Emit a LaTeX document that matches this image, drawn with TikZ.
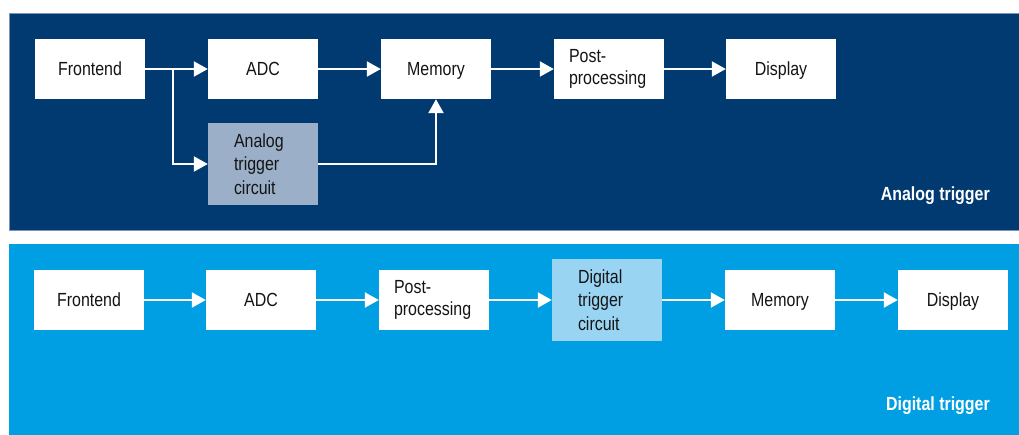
\documentclass[tikz,border=0pt]{standalone}
\usepackage{fontspec}
\setmainfont{Liberation Sans}[FakeStretch=0.84]
\usetikzlibrary{arrows.meta,positioning}
\definecolor{darkpanel}{RGB}{0,58,112}
\definecolor{lightpanel}{RGB}{0,159,227}
\definecolor{paneledge}{RGB}{120,150,185}
\definecolor{atcfill}{RGB}{155,176,200}
\definecolor{dtcfill}{RGB}{153,213,243}
\definecolor{txt}{RGB}{20,20,20}
\tikzset{
  blockbox/.style={fill=white, draw=none, minimum width=110pt, minimum height=60pt,
    inner sep=0pt, text=txt, font=\fontsize{19}{22}\selectfont, align=center,
    text height=13.9pt, text depth=0pt},
  leftbox/.style={fill=white, draw=none, minimum width=110pt, minimum height=60pt,
    inner sep=0pt, text=txt, font=\fontsize{19}{22}\selectfont, align=left, text width=80pt},
  trigbox/.style={draw=none, minimum width=110pt, minimum height=82pt,
    inner sep=0pt, text=txt, font=\fontsize{19}{23.5}\selectfont, align=left, text width=58pt},
  flow/.style={draw=white, line width=2.2pt, -{Triangle[length=14pt,width=15pt]}},
  paneltitle/.style={text=white, font=\bfseries\fontsize{19}{20}\selectfont, anchor=base east, inner sep=0pt}
}
\begin{document}
\begin{tikzpicture}[x=1pt,y=-1pt]
\useasboundingbox (0,0) rectangle (1019,434);
\fill[white] (0,0) rectangle (1019,434);
% panels
\fill[darkpanel, draw=paneledge, line width=0.8pt] (9,13) rectangle (1025,230);
\fill[lightpanel] (9,244) rectangle (1025,440);
% top row
\node[blockbox] (fe1) at (90,69) {Frontend};
\node[blockbox] (adc1) at (263,69) {ADC};
\node[blockbox] (mem1) at (436,69) {Memory};
\node[leftbox] (pp1) at (609,69) {Post-\\processing};
\node[blockbox] (dis1) at (781,69) {Display};
\node[trigbox, fill=atcfill] (atc) at (263,164) {Analog\\trigger\\circuit};
\coordinate (br) at (173,69);
\draw[flow] (fe1.east) -- (adc1.west);
\draw[flow] (br) |- (atc.west);
\draw[flow] (adc1.east) -- (mem1.west);
\draw[flow] (mem1.east) -- (pp1.west);
\draw[flow] (pp1.east) -- (dis1.west);
\draw[flow] (atc.east) -| (mem1.south);
\node[paneltitle] (t1) at (990,200) {Analog trigger};
% bottom row
\node[blockbox] (fe2) at (89,300) {Frontend};
\node[blockbox] (adc2) at (261,300) {ADC};
\node[leftbox] (pp2) at (434,300) {Post-\\processing};
\node[trigbox, fill=dtcfill] (dtc) at (607,300) {Digital\\trigger\\circuit};
\node[blockbox] (mem2) at (780,300) {Memory};
\node[blockbox] (dis2) at (953,300) {Display};
\draw[flow] (fe2.east) -- (adc2.west);
\draw[flow] (adc2.east) -- (pp2.west);
\draw[flow] (pp2.east) -- (dtc.west);
\draw[flow] (dtc.east) -- (mem2.west);
\draw[flow] (mem2.east) -- (dis2.west);
\node[paneltitle] (t2) at (990,410) {Digital trigger};
\end{tikzpicture}
\end{document}
